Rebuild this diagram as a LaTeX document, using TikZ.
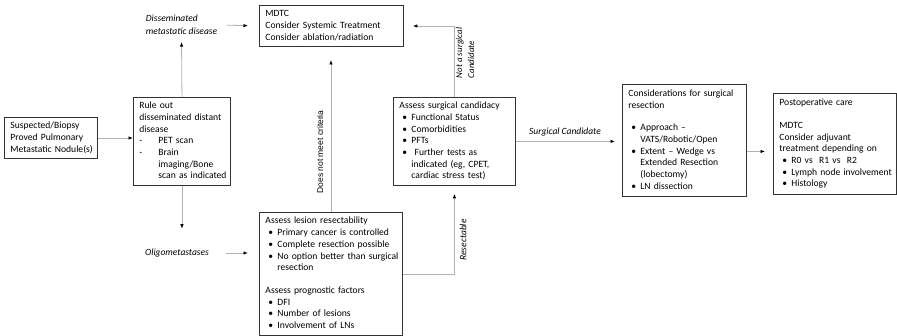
\documentclass[tikz,border=0pt]{standalone}
\usepackage{fontspec}
\setmainfont{Carlito}
\newfontfamily\arialfont{Liberation Sans}
\usetikzlibrary{arrows.meta}
\newcommand{\bul}{\hspace*{3pt}\makebox[9pt][l]{\textbullet}}
\newcommand{\cnt}{\hspace*{12pt}}
\newcommand{\dsh}{\makebox[19pt][l]{-}}
\newcommand{\lines}[1]{\begin{tabular}{@{}l@{}}#1\end{tabular}}
\tikzset{
	box/.style={draw=black!80, line width=0.9pt, anchor=north west, align=left, inner xsep=6pt, inner ysep=3pt, font=\fontsize{9.6}{11.7}\selectfont},
	lbl/.style={font=\fontsize{9.5}{13}\selectfont\itshape, align=left, inner sep=3pt},
	arr/.style={draw=gray!60, line width=0.8pt, -{Latex[length=4.5pt,width=3.5pt,color=black]}}
}
\begin{document}
\begin{tikzpicture}[x=1pt,y=-1pt]
	\useasboundingbox (0,0) rectangle (897,336);
	% Kaesten
	\node[box, text width=81, minimum width=93, minimum height=40] (sus) at (4,117) {\lines{Suspected/Biopsy\\Proved Pulmonary\\Metastatic Nodule(s)}};
	\node[box, text width=85, minimum width=97, minimum height=86] (rule) at (133,97) {\lines{Rule out\\disseminated distant\\disease\\\dsh PET scan\\\dsh Brain\\\hspace*{19pt}imaging/Bone\\\hspace*{19pt}scan as indicated}};
	\node[box, text width=132, minimum width=144, minimum height=40] (mdtc) at (259,5) {\lines{MDTC\\Consider Systemic Treatment\\Consider ablation/radiation}};
	\node[box, text width=131, minimum width=143, minimum height=123] (res) at (259,212) {\lines{Assess lesion resectability\\\bul Primary cancer is controlled\\\bul Complete resection possible\\\bul No option better than surgical\\\cnt resection\\[11pt]Assess prognostic factors\\\bul DFI\\\bul Number of lesions\\\bul Involvement of LNs}};
	\node[box, text width=110, minimum width=122, minimum height=87] (cand) at (393,97) {\lines{Assess surgical candidacy\\\bul Functional Status\\\bul Comorbidities\\\bul PFTs\\\bul \ Further tests as\\\cnt indicated (eg, CPET,\\\cnt cardiac stress test)}};
	\node[box, text width=112, minimum width=124, minimum height=112] (cons) at (622,84) {\lines{Considerations for surgical\\resection\\[11pt]\bul Approach --\\\cnt VATS/Robotic/Open\\\bul Extent -- Wedge vs\\\cnt Extended Resection\\\cnt (lobectomy)\\\bul LN dissection}};
	\node[box, text width=111, minimum width=123, minimum height=101] (post) at (773,93) {\lines{Postoperative care\\[11pt]MDTC\\Consider adjuvant\\treatment depending on\\\bul R0 vs\ \ R1 vs\ \ R2\\\bul Lymph node involvement\\\bul Histology}};
	% Beschriftungen
	\node[lbl] (dis) at (181.5,25) {Disseminated\\metastatic disease};
	\node[lbl] (oligo) at (177,253) {Oligometastases};
	\node[font=\fontsize{8.5}{10}\selectfont\arialfont, rotate=90] (crit) at (320,152) {Does not meet criteria};
	\node[lbl, rotate=90, font=\fontsize{9}{12}\selectfont\itshape] (notsurg) at (465,53) {Not a surgical\\Candidate};
	\node[lbl, rotate=90] (resect) at (463,240) {Resectable};
	\node[lbl] (surg) at (565,132) {Surgical Candidate};
	% Pfeile
	\draw[arr] (sus.east) -- (sus.east -| rule.west);
	\draw[arr, shorten >=4pt] (rule.north) -- (dis.south);
	\draw[arr, shorten >=17pt] (rule.south) -- (rule.south |- oligo.north);
	\draw[arr, shorten <=6pt, shorten >=11pt] (dis.east) -- (mdtc.west);
	\draw[arr, shorten <=14pt, shorten >=11pt] (oligo.east) -- (oligo.east -| res.west);
	\draw[arr, shorten >=13pt] (res.north) -- (res.north |- mdtc.south);
	\draw[arr, shorten >=8pt] (res.east) -| (cand.south);
	\draw[arr, shorten >=9pt] (cand.north) |- (mdtc.east);
	\draw[arr, shorten >=7pt] (cand.east) -- (cand.east -| cons.west);
	\draw[arr, shorten >=8pt] ([yshift=-11pt]cons.east) -- ([yshift=-11pt]cons.east -| post.west);
\end{tikzpicture}
\end{document}
